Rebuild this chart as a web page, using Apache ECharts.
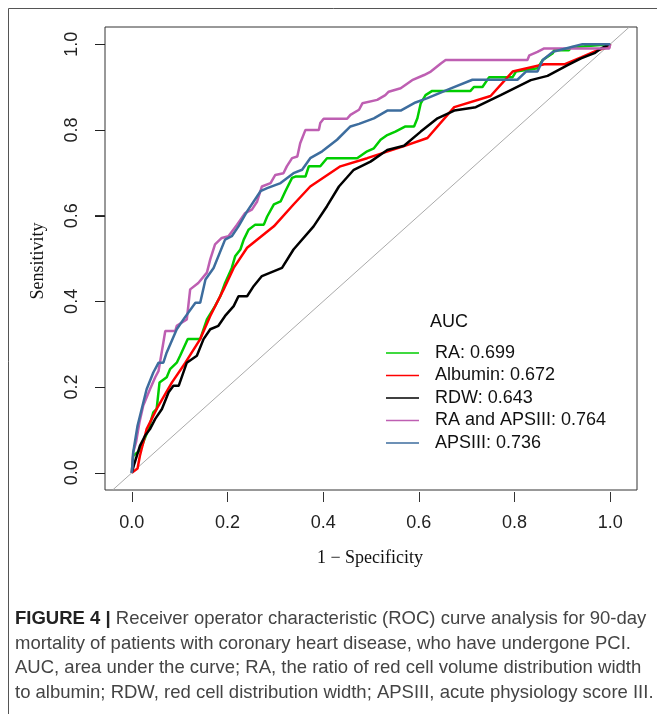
<!DOCTYPE html>
<html>
<head>
<meta charset="utf-8">
<script src="https://cdn.jsdelivr.net/npm/echarts@6/dist/echarts.min.js"></script>
<style>
html,body{margin:0;padding:0;background:#fff;}
#chart{width:657px;height:714px;}
</style>
</head>
<body>
<div id="chart"></div>
<script>
// ---- data (1 - specificity, sensitivity) ----
const tickValues = [0, 0.2, 0.4, 0.6, 0.8, 1.0];
const seriesNames = ['RA', 'Albumin', 'RDW', 'RA and APSIII', 'APSIII'];
const aucValues = ['0.699', '0.672', '0.643', '0.764', '0.736'];

const raX = [0, 0.003, 0.017, 0.024, 0.035, 0.045, 0.052, 0.058, 0.073, 0.080, 0.094, 0.101, 0.117, 0.143, 0.157, 0.174, 0.185, 0.195, 0.209, 0.216, 0.227, 0.234, 0.244, 0.258, 0.276, 0.283, 0.297, 0.311, 0.321, 0.335, 0.342, 0.363, 0.370, 0.394, 0.408, 0.471, 0.492, 0.506, 0.520, 0.534, 0.551, 0.572, 0.590, 0.597, 0.604, 0.614, 0.628, 0.708, 0.715, 0.733, 0.747, 0.796, 0.803, 0.848, 0.859, 0.880, 0.883, 0.914, 0.918, 0.946, 1.0];
const raY = [0, 0.040, 0.052, 0.071, 0.102, 0.141, 0.149, 0.211, 0.223, 0.242, 0.257, 0.273, 0.312, 0.312, 0.358, 0.389, 0.412, 0.443, 0.478, 0.505, 0.521, 0.544, 0.567, 0.579, 0.579, 0.598, 0.626, 0.633, 0.657, 0.688, 0.691, 0.691, 0.715, 0.715, 0.734, 0.734, 0.750, 0.757, 0.777, 0.788, 0.796, 0.808, 0.808, 0.827, 0.862, 0.881, 0.891, 0.891, 0.900, 0.900, 0.923, 0.923, 0.936, 0.944, 0.963, 0.979, 0.986, 0.986, 0.993, 0.995, 1.0];

const albX = [0, 0.012, 0.017, 0.031, 0.052, 0.084, 0.112, 0.143, 0.164, 0.192, 0.213, 0.241, 0.297, 0.338, 0.373, 0.436, 0.492, 0.569, 0.618, 0.674, 0.750, 0.796, 0.862, 0.904, 0.939, 0.974, 0.998, 1.0];
const albY = [0, 0.010, 0.040, 0.102, 0.149, 0.211, 0.257, 0.312, 0.366, 0.428, 0.478, 0.525, 0.575, 0.626, 0.668, 0.715, 0.734, 0.762, 0.781, 0.853, 0.879, 0.936, 0.953, 0.953, 0.969, 0.986, 0.993, 1.0];

const rdwX = [0, 0.005, 0.017, 0.028, 0.038, 0.049, 0.063, 0.077, 0.087, 0.098, 0.115, 0.136, 0.150, 0.164, 0.181, 0.195, 0.213, 0.223, 0.241, 0.255, 0.272, 0.314, 0.338, 0.380, 0.408, 0.433, 0.464, 0.499, 0.534, 0.569, 0.604, 0.639, 0.674, 0.719, 0.771, 0.834, 0.869, 0.911, 0.939, 0.967, 0.981, 1.0];
const rdwY = [0, 0.020, 0.063, 0.087, 0.102, 0.126, 0.149, 0.188, 0.203, 0.203, 0.257, 0.273, 0.312, 0.335, 0.343, 0.366, 0.389, 0.412, 0.412, 0.436, 0.459, 0.478, 0.521, 0.575, 0.622, 0.668, 0.707, 0.726, 0.753, 0.763, 0.796, 0.827, 0.845, 0.853, 0.881, 0.916, 0.926, 0.951, 0.967, 0.979, 0.990, 1.0];

const raApsX = [0, 0.003, 0.009, 0.016, 0.024, 0.038, 0.049, 0.056, 0.066, 0.070, 0.091, 0.094, 0.115, 0.122, 0.139, 0.157, 0.164, 0.174, 0.188, 0.202, 0.220, 0.237, 0.251, 0.262, 0.272, 0.290, 0.300, 0.317, 0.324, 0.335, 0.346, 0.352, 0.363, 0.391, 0.394, 0.401, 0.450, 0.457, 0.475, 0.482, 0.513, 0.530, 0.537, 0.562, 0.586, 0.611, 0.625, 0.646, 0.656, 0.827, 0.831, 0.848, 0.862, 0.998, 1.0];
const raApsY = [0, 0.048, 0.072, 0.118, 0.157, 0.195, 0.223, 0.238, 0.304, 0.331, 0.331, 0.343, 0.358, 0.428, 0.443, 0.467, 0.498, 0.533, 0.548, 0.552, 0.579, 0.606, 0.614, 0.633, 0.668, 0.676, 0.695, 0.699, 0.715, 0.734, 0.738, 0.769, 0.800, 0.800, 0.816, 0.826, 0.826, 0.835, 0.847, 0.862, 0.870, 0.881, 0.889, 0.897, 0.916, 0.928, 0.936, 0.955, 0.963, 0.963, 0.974, 0.982, 0.990, 0.990, 1.0];

const apsX = [0, 0.003, 0.012, 0.031, 0.045, 0.056, 0.066, 0.073, 0.094, 0.108, 0.133, 0.143, 0.154, 0.171, 0.195, 0.209, 0.223, 0.241, 0.269, 0.283, 0.311, 0.338, 0.356, 0.373, 0.398, 0.429, 0.457, 0.475, 0.506, 0.534, 0.562, 0.593, 0.618, 0.667, 0.712, 0.806, 0.824, 0.848, 0.859, 0.880, 0.907, 0.942, 1.0];
const apsY = [0, 0.048, 0.110, 0.195, 0.234, 0.257, 0.257, 0.281, 0.335, 0.358, 0.397, 0.397, 0.451, 0.478, 0.544, 0.552, 0.575, 0.610, 0.657, 0.664, 0.676, 0.699, 0.707, 0.734, 0.750, 0.777, 0.808, 0.814, 0.827, 0.845, 0.845, 0.864, 0.874, 0.897, 0.917, 0.917, 0.936, 0.936, 0.963, 0.982, 0.990, 1.0, 1.0];

const refLineX = [-0.04, 1.04];
const refLineY = [-0.04, 1.04];

const captionLines = [
  '{b|FIGURE 4 |} Receiver operator characteristic (ROC) curve analysis for 90-day',
  'mortality of patients with coronary heart disease, who have undergone PCI.',
  'AUC, area under the curve; RA, the ratio of red cell volume distribution width',
  'to albumin; RDW, red cell distribution width; APSIII, acute physiology score III.'
];

// ---- build ----
const xRange = [-0.056, 1.056];
const yRange = [-0.04, 1.04];
const colors = ['#00CD00', '#FF0000', '#000000', '#BE5FB2', '#3D6D9E'];
const xs = [raX, albX, rdwX, raApsX, apsX];
const ys = [raY, albY, rdwY, raApsY, apsY];
const zip = (a, b) => a.map((v, i) => [v, b[i]]);

const series = [{
  name: 'ref', type: 'line', data: zip(refLineX, refLineY), showSymbol: false,
  lineStyle: { color: '#AAAAAA', width: 1 }, silent: true, z: 1
}];
seriesNames.forEach((n, i) => {
  series.push({
    name: n + ': ' + aucValues[i], type: 'line', data: zip(xs[i], ys[i]),
    showSymbol: false, symbol: 'none', color: colors[i],
    lineStyle: { color: colors[i], width: 2.5 }, z: 2 + i
  });
});
// y-axis tick marks (outside the box), placed through the library's scale
series.push({
  name: 'yTicks', type: 'custom', silent: true, clip: false, z: 10,
  data: tickValues.map(v => [xRange[0], v]),
  renderItem: (params, api) => {
    const p = api.coord([api.value(0), api.value(1)]);
    return { type: 'line', shape: { x1: p[0] - 10, y1: Math.round(p[1]) + 0.5, x2: p[0], y2: Math.round(p[1]) + 0.5 }, style: { stroke: '#222', lineWidth: 1 } };
  }
});

const fontSans = '"Liberation Sans", Arial, sans-serif';
const fontSerif = '"Liberation Serif", "Times New Roman", serif';

const graphic = [
  { type: 'rect', shape: { x: 8.5, y: 8.5, width: 700, height: 720 }, style: { fill: 'none', stroke: '#555', lineWidth: 1 }, silent: true },
  { type: 'text', x: 370, y: 558, style: { text: '1 \u2212 Specificity', font: '18px ' + fontSerif, fill: '#111', textAlign: 'center', textVerticalAlign: 'middle' } },
  { type: 'text', x: 38, y: 261, rotation: Math.PI / 2, style: { text: 'Sensitivity', font: '18px ' + fontSerif, fill: '#111', textAlign: 'center', textVerticalAlign: 'middle' } },
  { type: 'text', x: 430, y: 322, style: { text: 'AUC', font: '18px ' + fontSans, fill: '#111', textAlign: 'left', textVerticalAlign: 'middle' } }
];
captionLines.forEach((t, i) => {
  graphic.push({
    type: 'text', x: 15, y: 619 + i * 24.7,
    style: {
      text: t, fontFamily: fontSans, fontSize: 18.5, fill: '#444',
      textAlign: 'left', textVerticalAlign: 'middle',
      rich: { b: { fontFamily: fontSans, fontSize: 18.5, fontWeight: 'bold', fill: '#222' } }
    }
  });
});

const chart = echarts.init(document.getElementById('chart'), null, { renderer: 'canvas' });
chart.setOption({
  animation: false,
  backgroundColor: '#fff',
  grid: { left: 105, top: 27, width: 532, height: 463, show: true, borderColor: '#333', borderWidth: 1, backgroundColor: 'transparent' },
  xAxis: {
    type: 'value', min: xRange[0], max: xRange[1], position: 'bottom', offset: 2,
    splitLine: { show: false }, axisLine: { show: true, onZero: false, lineStyle: { color: 'rgba(0,0,0,0)' } },
    axisTick: { show: true, inside: false, length: 10, customValues: tickValues, lineStyle: { color: '#333', width: 1 } },
    axisLabel: { customValues: tickValues, formatter: v => v.toFixed(1), margin: 22, fontSize: 18, fontFamily: fontSans, color: '#222' }
  },
  yAxis: {
    type: 'value', min: yRange[0], max: yRange[1], position: 'left',
    splitLine: { show: false }, axisLine: { show: true, onZero: false, lineStyle: { color: 'rgba(0,0,0,0)' } },
    axisTick: { show: true, inside: false, length: 10, customValues: tickValues, lineStyle: { color: '#333', width: 1 } },
    axisLabel: { customValues: tickValues, formatter: v => v.toFixed(1), rotate: 90, margin: 24, fontSize: 18, fontFamily: fontSans, color: '#222' }
  },
  legend: {
    data: seriesNames.map((n, i) => n + ': ' + aucValues[i]),
    orient: 'vertical', left: 381, top: 339, itemGap: 4.5, itemWidth: 33, itemHeight: 1.5,
    icon: 'rect', selectedMode: false,
    textStyle: { fontSize: 18, fontFamily: fontSans, color: '#111', lineHeight: 18, padding: [0, 0, 0, 11] }
  },
  graphic: graphic,
  series: series
});

// extra tick marks on top layer, positioned through the chart's own scale
const tickGraphics = tickValues.map(v => {
  const p = chart.convertToPixel({ gridIndex: 0 }, [xRange[0], v]);
  const yy = Math.round(p[1]) + 0.5;
  return { type: 'line', z: 100, silent: true, shape: { x1: p[0] - 10, y1: yy, x2: p[0], y2: yy }, style: { stroke: '#222', lineWidth: 1 } };
});
chart.setOption({ graphic: graphic.concat(tickGraphics) });
</script>
</body>
</html>
